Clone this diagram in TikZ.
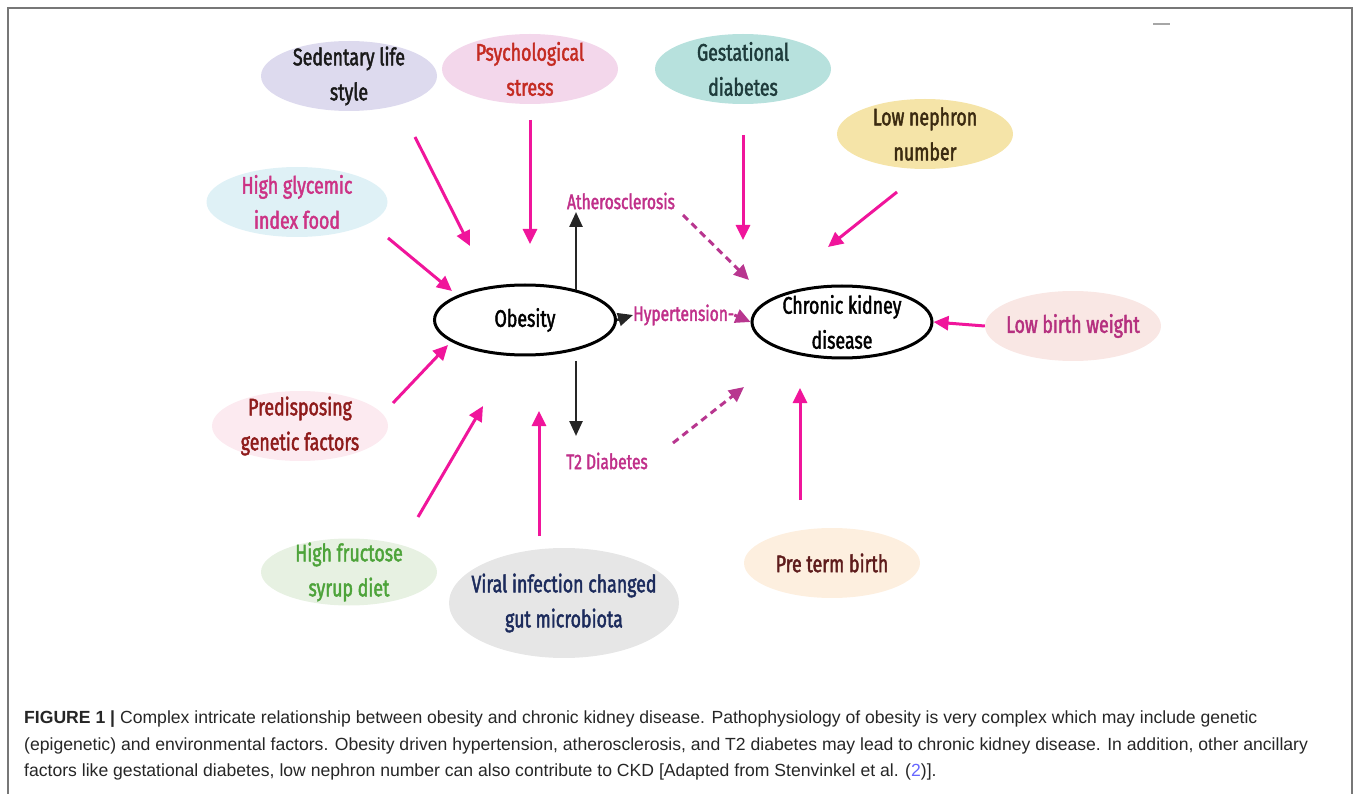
\documentclass[tikz,border=0pt]{standalone}
\usepackage{fontspec}
\setmainfont{Liberation Sans}
\newfontfamily\lblfont[FakeStretch=0.74,FakeBold=1.8]{Fira Sans}
\usetikzlibrary{shapes.geometric,arrows.meta}

\definecolor{arrowpink}{HTML}{F0159B}
\definecolor{dashpink}{HTML}{B8368F}
\definecolor{labpink}{HTML}{C0308A}
\definecolor{framegray}{HTML}{777777}

\tikzset{
  blob/.style={ellipse, inner xsep=-40pt, inner ysep=-20pt, minimum width=176pt, minimum height=70pt,
    align=center, font=\lblfont\fontsize{24}{35}\selectfont},
  hub/.style={blob, draw=black, line width=3pt, minimum width=181pt},
  sidelabel/.style={inner sep=0pt, text=labpink, font=\lblfont\fontsize{21}{24}\selectfont},
  pinkarrow/.style={draw=arrowpink, line width=3pt, -{Triangle[length=15pt,width=14pt]}},
  dasharrow/.style={draw=dashpink, line width=3pt, dash pattern=on 7pt off 5pt,
    -{Triangle[length=15pt,width=14pt]}},
  blackarrow/.style={draw=black!85, line width=2.5pt, -{Triangle[length=15pt,width=13pt]}},
}

\begin{document}
\begin{tikzpicture}[x=1pt,y=-1pt]
\useasboundingbox (0,0) rectangle (1358,794);

% frame
\draw[framegray, line width=2pt] (8,794) -- (8,8) -- (1352,8) -- (1352,794);
\draw[gray!70, line width=2.5pt] (1153,24) -- (1170,24);

% risk factors
\node[blob, fill={rgb,255:red,221;green,218;blue,238}, text=black!90] (sedentary) at (349,76) {Sedentary life\\style};
\node[blob, fill={rgb,255:red,243;green,215;blue,235}, text={rgb,255:red,196;green,43;blue,34}] (stress) at (530,69) {Psychological\\stress};
\node[blob, fill={rgb,255:red,183;green,225;blue,221}, text={rgb,255:red,30;green,59;blue,59}] (gestational) at (743,69) {Gestational\\diabetes};
\node[blob, fill={rgb,255:red,245;green,228;blue,168}, text={rgb,255:red,59;green,42;blue,16}] (nephron) at (925,134) {Low nephron\\number};
\node[blob, fill={rgb,255:red,223;green,241;blue,246}, text={rgb,255:red,204;green,51;blue,133}, minimum width=181pt] (glycemic) at (297,202) {High glycemic\\index food};
\node[blob, fill={rgb,255:red,249;green,231;blue,228}, text={rgb,255:red,181;green,48;blue,127}] (birthweight) at (1073,326) {Low birth weight};
\node[blob, fill={rgb,255:red,252;green,234;blue,240}, text={rgb,255:red,142;green,27;blue,27}] (genetic) at (300,426) {Predisposing\\genetic factors};
\node[blob, fill={rgb,255:red,231;green,241;blue,226}, text={rgb,255:red,77;green,163;blue,58}, minimum height=67pt] (fructose) at (349,572) {High fructose\\syrup diet};
\node[blob, fill={rgb,255:red,230;green,230;blue,230}, text={rgb,255:red,28;green,43;blue,92}, minimum width=230pt, minimum height=110pt] (viral) at (564,603) {Viral infection changed\\gut microbiota};
\node[blob, fill={rgb,255:red,253;green,239;blue,223}, text={rgb,255:red,94;green,28;blue,28}] (preterm) at (832,563) {Pre term birth};

% the two hubs
\node[hub] (obesity) at (525,320) {Obesity};
\node[hub, minimum width=180pt, minimum height=72pt] (ckd) at (842,322) {Chronic kidney\\disease};

% comorbidities
\node[sidelabel] (athero) at (621,201) {Atherosclerosis};
\node[sidelabel, anchor=west] (hyper) at (633,315) {Hypertension-};
\node[sidelabel] (diabetes) at (607,461) {T2 Diabetes};

% arrow ends
\coordinate (sedTail) at (415,137);   \coordinate (sedTip) at (470,246);
\coordinate (strTail) at (530,120);   \coordinate (strTip) at (530,244);
\coordinate (glyTail) at (388,238);   \coordinate (glyTip) at (452,291);
\coordinate (genTail) at (393,403);   \coordinate (genTip) at (448,345);
\coordinate (fruTail) at (418,517);   \coordinate (fruTip) at (483,406);
\coordinate (virTail) at (539,536);   \coordinate (virTip) at (539,411);
\coordinate (gesTail) at (743,135);   \coordinate (gesTip) at (743,240);
\coordinate (nepTail) at (897,192);   \coordinate (nepTip) at (828,247);
\coordinate (preTail) at (800,500);   \coordinate (preTip) at (800,388);
\coordinate (athTail) at (683,215);   \coordinate (athTip) at (749,280);
\coordinate (diaTail) at (673,443);   \coordinate (diaTip) at (744,387);
\coordinate (upTip) at (576,212);     \coordinate (downTip) at (576,436);

% into obesity
\draw[pinkarrow] (sedTail) -- (sedTip);
\draw[pinkarrow] (strTail) -- (strTip);
\draw[pinkarrow] (glyTail) -- (glyTip);
\draw[pinkarrow] (genTail) -- (genTip);
\draw[pinkarrow] (fruTail) -- (fruTip);
\draw[pinkarrow] (virTail) -- (virTip);

% into ckd
\draw[pinkarrow] (gesTail) -- (gesTip);
\draw[pinkarrow] (nepTail) -- (nepTip);
\draw[pinkarrow] (birthweight.west) -- (ckd.east);
\draw[pinkarrow] (preTail) -- (preTip);

% obesity to comorbidities
\draw[blackarrow] (upTip |- obesity.29.5) -- (upTip);
\draw[blackarrow] (576,361) -- (downTip);
\draw[blackarrow] (obesity.east) -- (hyper.west);

% comorbidities to ckd
\draw[dasharrow] (athTail) -- (athTip);
\draw[dasharrow] (diaTail) -- (diaTip);
\draw[dasharrow] (hyper.east) -- (ckd.west);

% caption
\node[anchor=north west, inner sep=0pt, align=left, font=\fontsize{17.6}{26.5}\selectfont, text=black!85] (caption) at (24,711)
{\textbf{FIGURE 1 |} Complex intricate relationship between obesity and chronic kidney disease. Pathophysiology of obesity is very complex which may include genetic\\
(epigenetic) and environmental factors. Obesity driven hypertension, atherosclerosis, and T2 diabetes may lead to chronic kidney disease. In addition, other ancillary\\
factors like gestational diabetes, low nephron number can also contribute to CKD [Adapted from Stenvinkel et al. ({\color{blue!60}2})].};
\end{tikzpicture}
\end{document}
